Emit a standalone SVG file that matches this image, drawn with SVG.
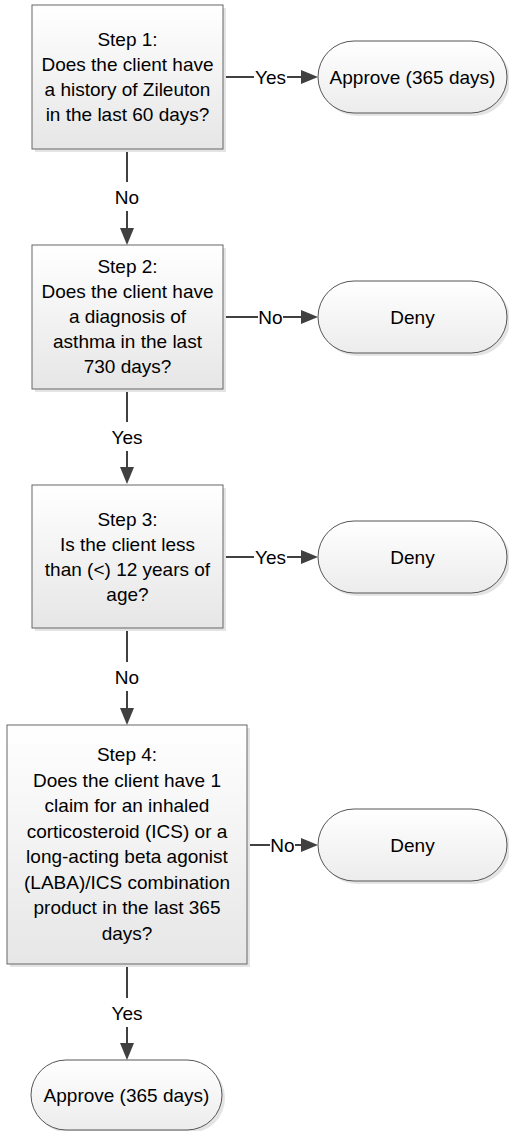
<svg xmlns="http://www.w3.org/2000/svg" width="509" height="1131" viewBox="0 0 509 1131">
<defs>
<linearGradient id="g" x1="0" y1="0" x2="0" y2="1">
<stop offset="0" stop-color="#ffffff"/>
<stop offset="1" stop-color="#e6e6e6"/>
</linearGradient>
<linearGradient id="gt" x1="0" y1="0" x2="0" y2="1">
<stop offset="0" stop-color="#ffffff"/>
<stop offset="1" stop-color="#ececec"/>
</linearGradient>
</defs>
<style>
.box{fill:url(#g);stroke:#666;stroke-width:1}
.term{fill:url(#gt);stroke:#555;stroke-width:1}
.sh{fill:#e4e4e4}
.t{font-family:"Liberation Sans",Arial,sans-serif;font-size:19px;fill:#000;text-anchor:middle}
.c{stroke:#404040;stroke-width:2;fill:none}
.ah{fill:#404040}
</style>
<rect width="509" height="1131" fill="#fff"/>

<g id="connectors">
<path class="c" d="M127 149V182M127 211V230M127 389V422M127 451V469M127 628V662M127 691V710M127 964V998M127 1027V1045"/>
<polygon class="ah" points="120,228 134,228 127,245"/>
<polygon class="ah" points="120,467 134,467 127,484"/>
<polygon class="ah" points="120,708 134,708 127,725"/>
<polygon class="ah" points="120,1043 134,1043 127,1060"/>
<path class="c" d="M223 77H254M287 77H303M223 317H258M283 317H303M223 557H254M287 557H303M247 845H270M295 845H303"/>
<polygon class="ah" points="301,70 301,84 318,77"/>
<polygon class="ah" points="301,310 301,324 318,317"/>
<polygon class="ah" points="301,550 301,564 318,557"/>
<polygon class="ah" points="301,838 301,852 318,845"/>
<text class="t" x="127" y="204">No</text>
<text class="t" x="127" y="444">Yes</text>
<text class="t" x="127" y="684">No</text>
<text class="t" x="127" y="1020">Yes</text>
<text class="t" x="270.5" y="84">Yes</text>
<text class="t" x="270.5" y="324">No</text>
<text class="t" x="270.5" y="564">Yes</text>
<text class="t" x="282.5" y="852">No</text>
</g>

<g id="step1">
<rect class="sh" x="35" y="8" width="191" height="144"/>
<rect class="box" x="32" y="5" width="191" height="144"/>
<text class="t" x="127.5" y="46">Step 1:</text>
<text class="t" x="127.5" y="71">Does the client have</text>
<text class="t" x="127.5" y="96">a history of Zileuton</text>
<text class="t" x="127.5" y="121">in the last 60 days?</text>
</g>

<g id="approve1">
<rect class="sh" x="321" y="44" width="189" height="72" rx="36"/>
<rect class="term" x="318" y="41" width="189" height="72" rx="36"/>
<text class="t" x="412.5" y="84">Approve (365 days)</text>
</g>

<g id="step2">
<rect class="sh" x="35" y="248" width="191" height="144"/>
<rect class="box" x="32" y="245" width="191" height="144"/>
<text class="t" x="127.5" y="273">Step 2:</text>
<text class="t" x="127.5" y="298">Does the client have</text>
<text class="t" x="127.5" y="323">a diagnosis of</text>
<text class="t" x="127.5" y="348">asthma in the last</text>
<text class="t" x="127.5" y="373">730 days?</text>
</g>

<g id="deny1">
<rect class="sh" x="321" y="284" width="189" height="72" rx="36"/>
<rect class="term" x="318" y="281" width="189" height="72" rx="36"/>
<text class="t" x="412.5" y="324">Deny</text>
</g>

<g id="step3">
<rect class="sh" x="35" y="488" width="191" height="143"/>
<rect class="box" x="32" y="485" width="191" height="143"/>
<text class="t" x="127.5" y="526">Step 3:</text>
<text class="t" x="127.5" y="551">Is the client less</text>
<text class="t" x="127.5" y="576">than (&lt;) 12 years of</text>
<text class="t" x="127.5" y="601">age?</text>
</g>

<g id="deny2">
<rect class="sh" x="321" y="524" width="189" height="72" rx="36"/>
<rect class="term" x="318" y="521" width="189" height="72" rx="36"/>
<text class="t" x="412.5" y="564">Deny</text>
</g>

<g id="step4">
<rect class="sh" x="10" y="728" width="240" height="239"/>
<rect class="box" x="7" y="725" width="240" height="239"/>
<text class="t" x="127" y="761">Step 4:</text>
<text class="t" x="127" y="786.5">Does the client have 1</text>
<text class="t" x="127" y="812">claim for an inhaled</text>
<text class="t" x="127" y="837.5">corticosteroid (ICS) or a</text>
<text class="t" x="127" y="863">long-acting beta agonist</text>
<text class="t" x="127" y="888.5">(LABA)/ICS combination</text>
<text class="t" x="127" y="914">product in the last 365</text>
<text class="t" x="127" y="939.5">days?</text>
</g>

<g id="deny3">
<rect class="sh" x="321" y="812" width="189" height="72" rx="36"/>
<rect class="term" x="318" y="809" width="189" height="72" rx="36"/>
<text class="t" x="412.5" y="852">Deny</text>
</g>

<g id="approve2">
<rect class="sh" x="34" y="1063" width="191" height="70" rx="35"/>
<rect class="term" x="31" y="1060" width="191" height="70" rx="35"/>
<text class="t" x="126.5" y="1102">Approve (365 days)</text>
</g>
</svg>
